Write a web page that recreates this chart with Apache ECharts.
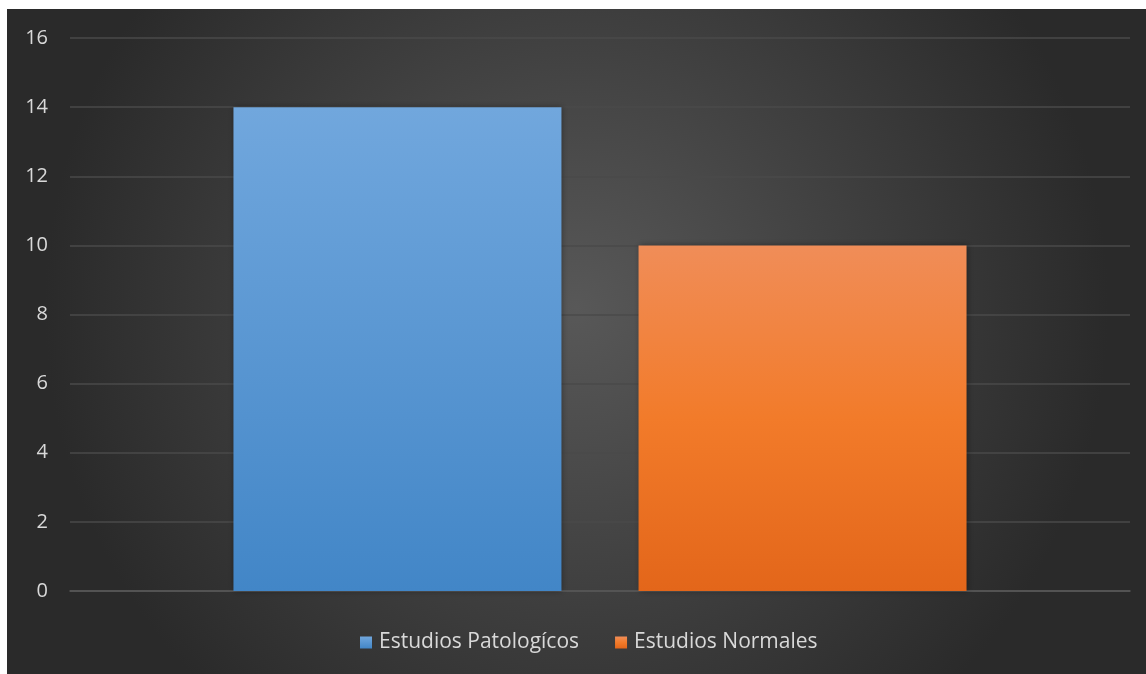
<!DOCTYPE html>
<html><head><meta charset="utf-8">
<script src="https://cdn.jsdelivr.net/npm/echarts@6/dist/echarts.min.js"></script>
<style>html,body{margin:0;padding:0;background:#fff;}#c{position:absolute;left:7px;top:9px;width:1139px;height:665px;}</style>
</head><body><div id="c"></div>
<script>
const categories = [''];
const seriesNames = ['Estudios Patologícos', 'Estudios Normales'];
const patologicos = [14];
const normales = [10];
const chart = echarts.init(document.getElementById('c'));
const font = 'Open Sans, Liberation Sans, sans-serif';
chart.setOption({
  backgroundColor: {type:'radial', x:0.5, y:0.45, r:0.8, colorStops:[{offset:0,color:'#585858'},{offset:1,color:'#2a2a2a'}]},
  animation:false,
  grid:{left:63, right:16, top:29, bottom:83},
  legend:{bottom:16, left:348, itemWidth:12, itemHeight:12, itemGap:36, icon:'rect',
    textStyle:{color:'#d9d9d9', fontSize:21, fontFamily:font, padding:[0,0,0,2]}, data:seriesNames},
  xAxis:{type:'category', data:categories, axisLine:{show:true, lineStyle:{color:'#595959', width:1.5}}, axisTick:{show:false}, axisLabel:{show:false}},
  yAxis:{type:'value', min:0, max:16, interval:2, axisLine:{show:false}, axisTick:{show:false},
    axisLabel:{color:'#d9d9d9', fontSize:20, fontFamily:font, margin:22},
    splitLine:{lineStyle:{color:'#4a4a4a', width:1.5}}},
  series:[
    {name:seriesNames[0], type:'bar', data:patologicos, barWidth:328, barGap:'23.5%',
     itemStyle:{color:{type:'linear',x:0,y:0,x2:0,y2:1,colorStops:[{offset:0,color:'#71a7dd'},{offset:1,color:'#4286c7'}]}, shadowColor:'rgba(0,0,0,0.35)', shadowBlur:6, shadowOffsetX:1}},
    {name:seriesNames[1], type:'bar', data:normales, barWidth:328,
     itemStyle:{color:{type:'linear',x:0,y:0,x2:0,y2:1,colorStops:[{offset:0,color:'#f08d58'},{offset:0.5,color:'#f27b2a'},{offset:1,color:'#e3661a'}]}, shadowColor:'rgba(0,0,0,0.35)', shadowBlur:6, shadowOffsetX:1}}
  ]
});
</script></body></html>
